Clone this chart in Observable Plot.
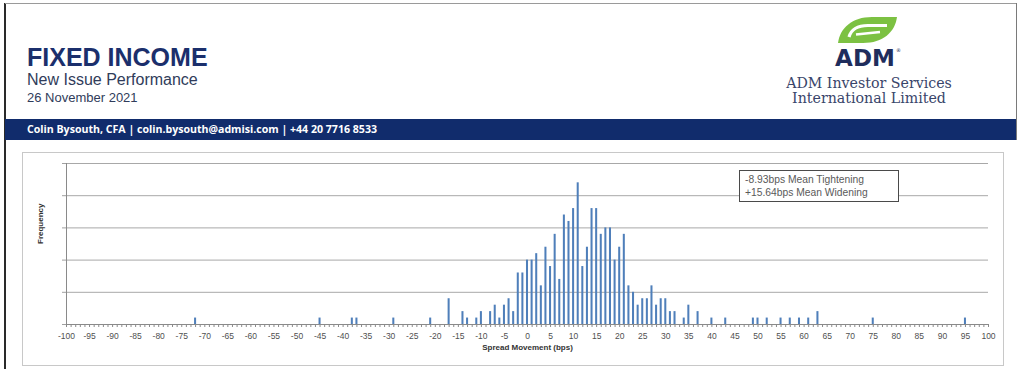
<!DOCTYPE html>
<html><head><meta charset="utf-8">
<script src="https://cdn.jsdelivr.net/npm/d3@7"></script>
<script src="https://cdn.jsdelivr.net/npm/@observablehq/plot@0.6"></script>
<style>
html,body{margin:0;padding:0;background:#fff;width:1024px;height:369px;overflow:hidden;}
#page{position:relative;width:1024px;height:369px;}
.abs{position:absolute;white-space:nowrap;line-height:1;}
#chart{position:absolute;left:22px;top:152px;}
#frame{position:absolute;left:22px;top:152px;width:980px;height:212px;border:1px solid #c8c8c8;}
#note{position:absolute;left:739px;top:170px;width:153px;height:27px;border:1px solid #4a4a4a;background:#fff;
  font-family:"Liberation Sans",Arial,sans-serif;font-size:10.3px;color:#5a5a5a;line-height:12.5px;padding:3px 0 0 5px;box-sizing:content-box;z-index:5;}
</style></head>
<body><div id="page">
  <div class="abs" style="left:4px;top:3px;width:2px;height:366px;background:#2a2a2a"></div>
  <div class="abs" style="left:5px;top:3px;width:1012px;height:1px;background:#9a9a9a"></div>
  <div class="abs" style="left:1016px;top:3px;width:1px;height:137px;background:#7a7a7a"></div>

  <div class="abs" style="left:27px;top:45px;font-family:'Liberation Sans',Arial,sans-serif;font-weight:bold;font-size:25px;color:#1b2f6c">FIXED INCOME</div>
  <div class="abs" style="left:27px;top:72px;font-family:'Liberation Sans',Arial,sans-serif;font-size:16px;color:#303c5a">New Issue Performance</div>
  <div class="abs" style="left:27px;top:91px;font-family:'Liberation Sans',Arial,sans-serif;font-size:13px;color:#303c5a">26 November 2021</div>

  <svg class="abs" style="left:830px;top:12px" width="80" height="36" viewBox="830 12 80 36">
    <path d="M838,43 C840,28 852,17 872,17 L897,17 C895,32 883,43 863,43 Z" fill="#7cc142"/>
    <path d="M849,37 C851,30 857,25.5 868,25.5 L887,25.5" fill="none" stroke="#fff" stroke-width="3.2"/>
    <path d="M856,34.5 L880,32" fill="none" stroke="#fff" stroke-width="2.4"/>
  </svg>
  <div class="abs" style="left:865px;top:47px;transform:translateX(-50%);font-family:'DejaVu Sans',sans-serif;font-weight:bold;font-size:23px;color:#1f2d5c">ADM</div>
  <div class="abs" style="left:896px;top:48px;font-family:'DejaVu Sans',sans-serif;font-size:5px;color:#1f2d5c">®</div>
  <div class="abs" style="left:869px;top:76px;transform:translateX(-50%);font-family:'DejaVu Serif',serif;font-size:14.2px;color:#39456a">ADM Investor Services</div>
  <div class="abs" style="left:869px;top:91px;transform:translateX(-50%);font-family:'DejaVu Serif',serif;font-size:14.2px;color:#39456a">International Limited</div>

  <div class="abs" style="left:5px;top:119px;width:1011px;height:21px;background:#112c6c"></div>
  <div class="abs" id="contact" style="left:27px;top:124px;font-family:'Open Sans',sans-serif;font-weight:bold;font-size:10.6px;color:#fff"></div>

  <div id="frame"></div>
  <div id="chart"></div>
  <div id="note"></div>
</div>
<script>
// ---- data ----
const spreadBps = [-72,-45,-38,-37,-29,-21,-17,-14,-13,-11,-10,-8,-7,-6,-5,-4,-3,-2,-1,0,1,2,3,4,5,6,7,8,9,10,11,12,13,14,15,16,17,18,19,20,21,22,23,24,25,26,27,28,29,30,31,32,34,35,37,40,43,49,50,52,55,57,59,61,63,75,95];
const frequency = [1,1,1,1,1,1,4,2,1,1,2,2,3,1,3,4,2,8,8,10,10,11,6,12,9,14,7,17,16,18,22,9,12,18,18,14,15,15,10,12,14,6,5,3,4,4,6,3,4,4,2,2,1,3,2,1,1,1,1,1,1,1,1,1,2,1,1];
const xTickLabels = [-100,-95,-90,-85,-80,-75,-70,-65,-60,-55,-50,-45,-40,-35,-30,-25,-20,-15,-10,-5,0,5,10,15,20,25,30,35,40,45,50,55,60,65,70,75,80,85,90,95,100];
const yGridTicks = [0,5,10,15,20,25];
const xTitle = "Spread Movement (bps)";
const yTitle = "Frequency";
const noteLines = ["-8.93bps Mean Tightening", "+15.64bps Mean Widening"];
const contactLine = "Colin Bysouth, CFA | colin.bysouth@admisi.com | +44 20 7716 8533";

document.getElementById("contact").textContent = contactLine;
document.getElementById("note").innerHTML = noteLines.map(s => `<div>${s}</div>`).join("");

const rows = spreadBps.map((v, i) => ({v, f: frequency[i]}));
const minorTicks = d3.range(xTickLabels[0], xTickLabels[xTickLabels.length - 1] + 1);
const halfBar = 0.22;

const chart = Plot.plot({
  width: 981, height: 213,
  marginLeft: 44, marginRight: 15, marginTop: 11, marginBottom: 41,
  style: {fontFamily: "'Liberation Sans', Arial, sans-serif", fontSize: "8.5px", color: "#505050", background: "transparent", overflow: "visible"},
  x: {domain: [-100, 100]},
  y: {domain: [0, 25]},
  marks: [
    Plot.gridY(yGridTicks.filter(d => d > 0), {stroke: "#a8a8a8", strokeOpacity: 1}),
    Plot.axisY(yGridTicks, {tickSize: 4, tickFormat: () => "", stroke: "#a0a0a0", label: null}),
    Plot.ruleX([-100], {stroke: "#8a8a8a"}),
    Plot.rectY(rows, {x1: d => d.v - halfBar, x2: d => d.v + halfBar, y: "f", fill: "#4f7fba"}),
    Plot.ruleY([0], {stroke: "#8a8a8a"}),
    Plot.axisX(minorTicks, {tickSize: 3, tickFormat: () => "", stroke: "#8a8a8a", label: null}),
    Plot.axisX(xTickLabels, {tickSize: 0, tickPadding: 8, tickFormat: d => `${d}`, label: null}),
    Plot.text([xTitle], {text: d => d, frameAnchor: "bottom", dy: 25, fontWeight: "bold", fontSize: 8, fill: "#333"}),
    Plot.text([yTitle], {text: d => d, frameAnchor: "left", dx: -26, rotate: -90, fontWeight: "bold", fontSize: 8, fill: "#333"})
  ]
});
document.getElementById("chart").appendChild(chart);
</script>
</body></html>
